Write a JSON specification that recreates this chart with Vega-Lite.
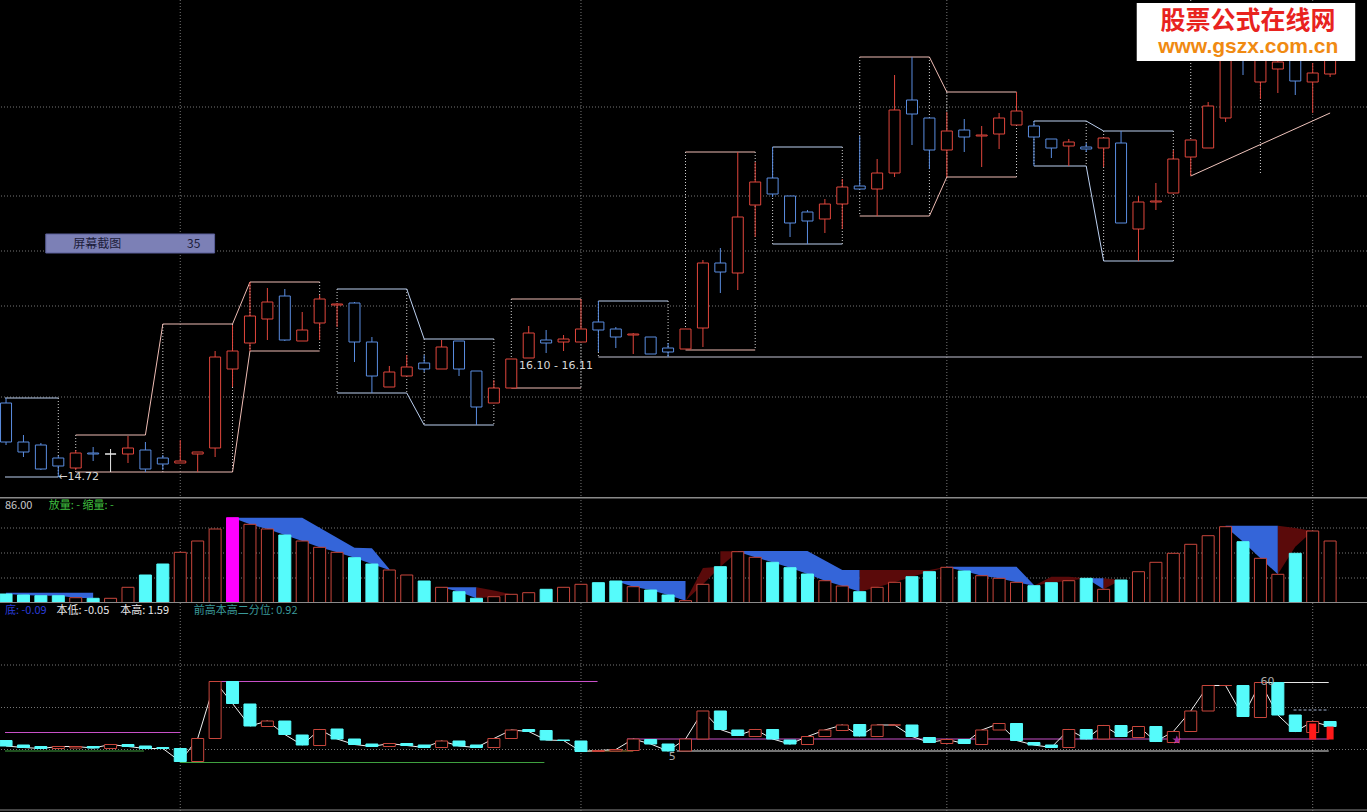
{
"$schema": "https://vega.github.io/schema/vega-lite/v6.json",
"background": "#000000",
"padding": 0,
"spacing": 0,
"bounds": "flush",
"config": {"view": {"stroke": null}, "text": {"font": "Noto Sans CJK SC"}},
"resolve": {"scale": {"x": "independent", "y": "independent", "color": "independent", "fill": "independent", "stroke": "independent"}},
"datasets": {
"candles": [
{"i":0,"o":15.46,"h":15.51,"l":15.04,"c":15.07,"d":"down"},
{"i":1,"o":15.07,"h":15.14,"l":14.92,"c":14.97,"d":"down"},
{"i":2,"o":15.04,"h":15.06,"l":14.79,"c":14.80,"d":"down"},
{"i":3,"o":14.91,"h":14.93,"l":14.72,"c":14.83,"d":"down"},
{"i":4,"o":14.81,"h":14.99,"l":14.79,"c":14.96,"d":"up"},
{"i":5,"o":14.96,"h":15.02,"l":14.88,"c":14.95,"d":"down"},
{"i":6,"o":14.95,"h":15.00,"l":14.77,"c":14.95,"d":"flat"},
{"i":7,"o":14.95,"h":15.13,"l":14.86,"c":15.01,"d":"up"},
{"i":8,"o":14.99,"h":15.07,"l":14.77,"c":14.80,"d":"down"},
{"i":9,"o":14.91,"h":14.94,"l":14.79,"c":14.85,"d":"down"},
{"i":10,"o":14.86,"h":15.09,"l":14.86,"c":14.88,"d":"up"},
{"i":11,"o":14.95,"h":14.97,"l":14.77,"c":14.97,"d":"up"},
{"i":12,"o":15.01,"h":15.98,"l":14.92,"c":15.92,"d":"up"},
{"i":13,"o":15.80,"h":16.24,"l":15.62,"c":15.98,"d":"up"},
{"i":14,"o":16.06,"h":16.67,"l":15.98,"c":16.33,"d":"up"},
{"i":15,"o":16.30,"h":16.61,"l":16.09,"c":16.47,"d":"up"},
{"i":16,"o":16.53,"h":16.60,"l":16.08,"c":16.09,"d":"down"},
{"i":17,"o":16.08,"h":16.37,"l":16.08,"c":16.19,"d":"up"},
{"i":18,"o":16.26,"h":16.54,"l":16.09,"c":16.50,"d":"up"},
{"i":19,"o":16.44,"h":16.46,"l":16.22,"c":16.45,"d":"up"},
{"i":20,"o":16.46,"h":16.47,"l":15.87,"c":16.07,"d":"down"},
{"i":21,"o":16.07,"h":16.12,"l":15.56,"c":15.73,"d":"down"},
{"i":22,"o":15.62,"h":15.83,"l":15.62,"c":15.77,"d":"up"},
{"i":23,"o":15.73,"h":15.94,"l":15.73,"c":15.82,"d":"up"},
{"i":24,"o":15.86,"h":15.94,"l":15.77,"c":15.80,"d":"down"},
{"i":25,"o":15.80,"h":16.09,"l":15.80,"c":16.02,"d":"up"},
{"i":26,"o":16.08,"h":16.08,"l":15.73,"c":15.80,"d":"down"},
{"i":27,"o":15.78,"h":15.78,"l":15.24,"c":15.42,"d":"down"},
{"i":28,"o":15.46,"h":15.69,"l":15.46,"c":15.61,"d":"up"},
{"i":29,"o":15.61,"h":15.90,"l":15.61,"c":15.90,"d":"up"},
{"i":30,"o":15.91,"h":16.23,"l":15.91,"c":16.16,"d":"up"},
{"i":31,"o":16.09,"h":16.19,"l":15.96,"c":16.06,"d":"down"},
{"i":32,"o":16.07,"h":16.14,"l":15.98,"c":16.10,"d":"up"},
{"i":33,"o":16.07,"h":16.50,"l":16.07,"c":16.20,"d":"up"},
{"i":34,"o":16.27,"h":16.48,"l":15.97,"c":16.19,"d":"down"},
{"i":35,"o":16.20,"h":16.22,"l":16.01,"c":16.12,"d":"down"},
{"i":36,"o":16.14,"h":16.16,"l":15.95,"c":16.15,"d":"up"},
{"i":37,"o":16.12,"h":16.12,"l":15.95,"c":15.95,"d":"down"},
{"i":38,"o":16.01,"h":16.06,"l":15.92,"c":15.97,"d":"down"},
{"i":39,"o":16.00,"h":16.20,"l":16.00,"c":16.20,"d":"up"},
{"i":40,"o":16.21,"h":16.89,"l":16.02,"c":16.86,"d":"up"},
{"i":41,"o":16.86,"h":17.01,"l":16.56,"c":16.77,"d":"down"},
{"i":42,"o":16.76,"h":17.97,"l":16.59,"c":17.32,"d":"up"},
{"i":43,"o":17.44,"h":17.87,"l":17.12,"c":17.67,"d":"up"},
{"i":44,"o":17.71,"h":18.02,"l":17.52,"c":17.55,"d":"down"},
{"i":45,"o":17.53,"h":17.53,"l":17.12,"c":17.26,"d":"down"},
{"i":46,"o":17.37,"h":17.39,"l":17.05,"c":17.28,"d":"down"},
{"i":47,"o":17.30,"h":17.50,"l":17.16,"c":17.45,"d":"up"},
{"i":48,"o":17.45,"h":17.70,"l":17.20,"c":17.62,"d":"up"},
{"i":49,"o":17.63,"h":18.13,"l":17.60,"c":17.60,"d":"down"},
{"i":50,"o":17.60,"h":17.90,"l":17.33,"c":17.76,"d":"up"},
{"i":51,"o":17.76,"h":18.74,"l":17.72,"c":18.39,"d":"up"},
{"i":52,"o":18.49,"h":18.92,"l":18.04,"c":18.35,"d":"down"},
{"i":53,"o":18.31,"h":18.31,"l":17.80,"c":17.99,"d":"down"},
{"i":54,"o":17.99,"h":18.37,"l":17.72,"c":18.18,"d":"up"},
{"i":55,"o":18.19,"h":18.30,"l":17.97,"c":18.12,"d":"down"},
{"i":56,"o":18.13,"h":18.23,"l":17.82,"c":18.14,"d":"up"},
{"i":57,"o":18.15,"h":18.36,"l":18.00,"c":18.31,"d":"up"},
{"i":58,"o":18.24,"h":18.57,"l":18.24,"c":18.38,"d":"up"},
{"i":59,"o":18.23,"h":18.28,"l":17.83,"c":18.12,"d":"down"},
{"i":60,"o":18.10,"h":18.10,"l":17.91,"c":18.01,"d":"down"},
{"i":61,"o":18.03,"h":18.10,"l":17.83,"c":18.07,"d":"up"},
{"i":62,"o":18.02,"h":18.06,"l":17.97,"c":18.00,"d":"down"},
{"i":63,"o":18.01,"h":18.11,"l":17.82,"c":18.11,"d":"up"},
{"i":64,"o":18.06,"h":18.18,"l":17.26,"c":17.26,"d":"down"},
{"i":65,"o":17.20,"h":17.53,"l":16.88,"c":17.47,"d":"up"},
{"i":66,"o":17.47,"h":17.66,"l":17.39,"c":17.48,"d":"up"},
{"i":67,"o":17.56,"h":17.99,"l":17.56,"c":17.90,"d":"up"},
{"i":68,"o":17.92,"h":18.09,"l":17.73,"c":18.09,"d":"up"},
{"i":69,"o":18.01,"h":18.47,"l":18.01,"c":18.43,"d":"up"},
{"i":70,"o":18.31,"h":19.04,"l":18.27,"c":18.94,"d":"up"},
{"i":71,"o":19.09,"h":19.19,"l":18.74,"c":18.89,"d":"down"},
{"i":72,"o":18.67,"h":19.19,"l":18.50,"c":19.04,"d":"up"},
{"i":73,"o":18.80,"h":18.99,"l":18.56,"c":18.87,"d":"up"},
{"i":74,"o":18.91,"h":19.04,"l":18.54,"c":18.68,"d":"down"},
{"i":75,"o":18.67,"h":18.86,"l":18.36,"c":18.76,"d":"up"},
{"i":76,"o":18.75,"h":19.04,"l":18.72,"c":18.89,"d":"up"}
],
"psides": [
{"i":3,"t":15.51,"b":14.72},{"i":4,"t":15.14,"b":14.77},{"i":9,"t":16.25,"b":14.77},{"i":13,"t":16.25,"b":14.77},
{"i":14,"t":16.67,"b":15.98},{"i":18,"t":16.67,"b":15.98},{"i":19,"t":16.60,"b":15.56},{"i":23,"t":16.60,"b":15.56},
{"i":24,"t":16.10,"b":15.24},{"i":28,"t":16.10,"b":15.24},{"i":29,"t":16.50,"b":15.61},{"i":33,"t":16.50,"b":15.61},
{"i":34,"t":16.48,"b":15.92},{"i":38,"t":16.48,"b":15.92},{"i":39,"t":17.97,"b":15.99},{"i":43,"t":17.97,"b":15.99},
{"i":44,"t":18.02,"b":17.05},{"i":48,"t":18.02,"b":17.05},{"i":49,"t":18.92,"b":17.33},{"i":53,"t":18.92,"b":17.33},
{"i":54,"t":18.57,"b":17.72},{"i":58,"t":18.57,"b":17.72},{"i":59,"t":18.28,"b":17.83},{"i":62,"t":18.28,"b":17.83},
{"i":63,"t":18.18,"b":16.88},{"i":67,"t":18.18,"b":16.88},{"i":68,"t":19.49,"b":17.73},{"i":72,"t":18.67,"b":17.75}
],
"pseg": [
{"xa":-0.06,"ya":15.51,"xb":3,"yb":15.51,"k":"down"},
{"xa":-0.06,"ya":14.72,"xb":3,"yb":14.72,"k":"down"},
{"xa":4,"ya":15.14,"xb":8,"yb":15.14,"k":"up"},
{"xa":8,"ya":15.14,"xb":9,"yb":16.25,"k":"up"},
{"xa":9,"ya":16.25,"xb":13,"yb":16.25,"k":"up"},
{"xa":4,"ya":14.77,"xb":13,"yb":14.77,"k":"up"},
{"xa":13,"ya":16.25,"xb":14,"yb":16.67,"k":"up"},
{"xa":13,"ya":14.77,"xb":14,"yb":15.98,"k":"up"},
{"xa":14,"ya":16.67,"xb":18,"yb":16.67,"k":"up"},
{"xa":14,"ya":15.98,"xb":18,"yb":15.98,"k":"up"},
{"xa":19,"ya":16.60,"xb":23,"yb":16.60,"k":"down"},
{"xa":19,"ya":15.56,"xb":23,"yb":15.56,"k":"down"},
{"xa":23,"ya":16.60,"xb":24,"yb":16.10,"k":"down"},
{"xa":23,"ya":15.56,"xb":24,"yb":15.24,"k":"down"},
{"xa":24,"ya":16.10,"xb":28,"yb":16.10,"k":"down"},
{"xa":24,"ya":15.24,"xb":28,"yb":15.24,"k":"down"},
{"xa":29,"ya":16.50,"xb":33,"yb":16.50,"k":"up"},
{"xa":29,"ya":15.61,"xb":33,"yb":15.61,"k":"up"},
{"xa":34,"ya":16.48,"xb":38,"yb":16.48,"k":"down"},
{"xa":34,"ya":15.92,"xb":77.83,"yb":15.92,"k":"base"},
{"xa":39,"ya":17.97,"xb":43,"yb":17.97,"k":"up"},
{"xa":39,"ya":15.99,"xb":43,"yb":15.99,"k":"up"},
{"xa":44,"ya":18.02,"xb":48,"yb":18.02,"k":"down"},
{"xa":44,"ya":17.05,"xb":48,"yb":17.05,"k":"down"},
{"xa":49,"ya":18.92,"xb":53,"yb":18.92,"k":"up"},
{"xa":49,"ya":17.33,"xb":53,"yb":17.33,"k":"up"},
{"xa":53,"ya":18.92,"xb":54,"yb":18.57,"k":"up"},
{"xa":53,"ya":17.33,"xb":54,"yb":17.72,"k":"up"},
{"xa":54,"ya":18.57,"xb":58,"yb":18.57,"k":"up"},
{"xa":54,"ya":17.72,"xb":58,"yb":17.72,"k":"up"},
{"xa":59,"ya":18.28,"xb":62,"yb":18.28,"k":"down"},
{"xa":59,"ya":17.83,"xb":62,"yb":17.83,"k":"down"},
{"xa":62,"ya":18.28,"xb":63,"yb":18.18,"k":"down"},
{"xa":62,"ya":17.83,"xb":63,"yb":16.88,"k":"down"},
{"xa":63,"ya":18.18,"xb":67,"yb":18.18,"k":"down"},
{"xa":63,"ya":16.88,"xb":67,"yb":16.88,"k":"down"},
{"xa":68,"ya":17.73,"xb":76,"yb":18.36,"k":"trend"}
],
"vol": [
{"i":0,"v":9.0,"d":"down"},{"i":1,"v":8.0,"d":"down"},{"i":2,"v":7.3,"d":"down"},{"i":3,"v":7.3,"d":"down"},
{"i":4,"v":5.3,"d":"up"},{"i":5,"v":4.7,"d":"down"},{"i":6,"v":4.7,"d":"up"},{"i":7,"v":15.7,"d":"up"},
{"i":8,"v":28,"d":"down"},{"i":9,"v":39,"d":"down"},{"i":10,"v":50.7,"d":"up"},{"i":11,"v":62,"d":"up"},
{"i":12,"v":74,"d":"up"},{"i":13,"v":85.3,"d":"peak"},{"i":14,"v":78.7,"d":"up"},{"i":15,"v":74,"d":"up"},
{"i":16,"v":68,"d":"down"},{"i":17,"v":62,"d":"up"},{"i":18,"v":55.7,"d":"up"},{"i":19,"v":50.7,"d":"up"},
{"i":20,"v":45.3,"d":"down"},{"i":21,"v":39,"d":"down"},{"i":22,"v":33,"d":"up"},{"i":23,"v":28,"d":"up"},
{"i":24,"v":22,"d":"down"},{"i":25,"v":15.7,"d":"up"},{"i":26,"v":11.3,"d":"down"},{"i":27,"v":4.7,"d":"down"},
{"i":28,"v":6.3,"d":"up"},{"i":29,"v":8.7,"d":"up"},{"i":30,"v":10.3,"d":"up"},{"i":31,"v":13.7,"d":"down"},
{"i":32,"v":15.7,"d":"up"},{"i":33,"v":18.7,"d":"up"},{"i":34,"v":20.3,"d":"down"},{"i":35,"v":22,"d":"down"},
{"i":36,"v":16.3,"d":"up"},{"i":37,"v":13,"d":"down"},{"i":38,"v":8,"d":"down"},{"i":39,"v":2.3,"d":"up"},
{"i":40,"v":18.7,"d":"up"},{"i":41,"v":36.3,"d":"down"},{"i":42,"v":51.3,"d":"up"},{"i":43,"v":45.7,"d":"up"},
{"i":44,"v":40.7,"d":"down"},{"i":45,"v":35.3,"d":"down"},{"i":46,"v":29,"d":"down"},{"i":47,"v":22.3,"d":"up"},
{"i":48,"v":17,"d":"up"},{"i":49,"v":11.3,"d":"down"},{"i":50,"v":15.7,"d":"up"},{"i":51,"v":20.7,"d":"up"},
{"i":52,"v":26.3,"d":"down"},{"i":53,"v":31.3,"d":"down"},{"i":54,"v":35.7,"d":"up"},{"i":55,"v":32,"d":"down"},
{"i":56,"v":27.3,"d":"up"},{"i":57,"v":24.7,"d":"up"},{"i":58,"v":20.7,"d":"up"},{"i":59,"v":17.3,"d":"down"},
{"i":60,"v":20.3,"d":"down"},{"i":61,"v":22.3,"d":"up"},{"i":62,"v":24.7,"d":"down"},{"i":63,"v":13.7,"d":"up"},
{"i":64,"v":23,"d":"down"},{"i":65,"v":31.3,"d":"up"},{"i":66,"v":40.7,"d":"up"},{"i":67,"v":49.7,"d":"up"},
{"i":68,"v":58.7,"d":"up"},{"i":69,"v":67.3,"d":"up"},{"i":70,"v":76.3,"d":"up"},{"i":71,"v":61.3,"d":"down"},
{"i":72,"v":44.7,"d":"up"},{"i":73,"v":28.7,"d":"up"},{"i":74,"v":49.7,"d":"down"},{"i":75,"v":72,"d":"up"},
{"i":76,"v":62,"d":"up"}
],
"varea": [
{"i":0,"hi":10.3,"lo":9,"s":"a1","k":"blue"},{"i":1,"hi":10.3,"lo":8,"s":"a1","k":"blue"},{"i":2,"hi":10.3,"lo":7.3,"s":"a1","k":"blue"},{"i":3,"hi":10.3,"lo":7.3,"s":"a1","k":"blue"},{"i":4,"hi":10.3,"lo":5.3,"s":"a1","k":"blue"},{"i":5,"hi":10.3,"lo":4.7,"s":"a1","k":"blue"},
{"i":13,"hi":85.3,"lo":85.3,"s":"a2","k":"blue"},{"i":14,"hi":85.3,"lo":78.7,"s":"a2","k":"blue"},{"i":15,"hi":85.3,"lo":74,"s":"a2","k":"blue"},{"i":16,"hi":85.3,"lo":68,"s":"a2","k":"blue"},{"i":17,"hi":85.3,"lo":62,"s":"a2","k":"blue"},{"i":18,"hi":75.3,"lo":55.7,"s":"a2","k":"blue"},{"i":19,"hi":65.3,"lo":50.7,"s":"a2","k":"blue"},{"i":20,"hi":55.3,"lo":45.3,"s":"a2","k":"blue"},{"i":21,"hi":54.7,"lo":39,"s":"a2","k":"blue"},{"i":22,"hi":34,"lo":33,"s":"a2","k":"blue"},
{"i":25,"hi":15.7,"lo":15.7,"s":"a3","k":"blue"},{"i":26,"hi":15.7,"lo":11.3,"s":"a3","k":"blue"},{"i":27,"hi":15.7,"lo":4.7,"s":"a3","k":"blue"},
{"i":27,"hi":15.7,"lo":4.7,"s":"a4","k":"dark"},{"i":28,"hi":12.5,"lo":6.3,"s":"a4","k":"dark"},{"i":29,"hi":8.7,"lo":8.7,"s":"a4","k":"dark"},
{"i":35,"hi":22,"lo":22,"s":"a5","k":"blue"},{"i":36,"hi":22,"lo":16.3,"s":"a5","k":"blue"},{"i":37,"hi":22,"lo":13,"s":"a5","k":"blue"},{"i":38,"hi":22,"lo":8,"s":"a5","k":"blue"},{"i":39,"hi":22,"lo":2.3,"s":"a5","k":"blue"},
{"i":39,"hi":2.3,"lo":2.3,"s":"a6","k":"dark"},{"i":40,"hi":35,"lo":18.7,"s":"a6","k":"dark"},{"i":41,"hi":36.3,"lo":36.3,"s":"a6","k":"dark"},
{"i":41,"hi":51.7,"lo":36.3,"s":"a7","k":"dark"},{"i":42,"hi":51.7,"lo":51.3,"s":"a7","k":"dark"},
{"i":42,"hi":52,"lo":51.3,"s":"a8","k":"blue"},{"i":43,"hi":52,"lo":45.7,"s":"a8","k":"blue"},{"i":44,"hi":52,"lo":40.7,"s":"a8","k":"blue"},{"i":45,"hi":52,"lo":35.3,"s":"a8","k":"blue"},{"i":46,"hi":52,"lo":29,"s":"a8","k":"blue"},{"i":47,"hi":42.5,"lo":22.3,"s":"a8","k":"blue"},{"i":48,"hi":33,"lo":17,"s":"a8","k":"blue"},{"i":49,"hi":33,"lo":11.3,"s":"a8","k":"blue"},
{"i":49,"hi":33,"lo":11.3,"s":"a9","k":"dark"},{"i":50,"hi":33,"lo":15.7,"s":"a9","k":"dark"},{"i":51,"hi":33,"lo":20.7,"s":"a9","k":"dark"},{"i":52,"hi":33,"lo":26.3,"s":"a9","k":"dark"},{"i":53,"hi":33,"lo":31.3,"s":"a9","k":"dark"},{"i":54,"hi":36.3,"lo":35.7,"s":"a9","k":"dark"},
{"i":54,"hi":36.3,"lo":35.7,"s":"a10","k":"blue"},{"i":55,"hi":36.3,"lo":32,"s":"a10","k":"blue"},{"i":56,"hi":36.3,"lo":27.3,"s":"a10","k":"blue"},{"i":57,"hi":36.3,"lo":24.7,"s":"a10","k":"blue"},{"i":58,"hi":36.3,"lo":20.7,"s":"a10","k":"blue"},{"i":59,"hi":18,"lo":17.3,"s":"a10","k":"blue"},
{"i":59,"hi":17.3,"lo":17.3,"s":"a11","k":"dark"},{"i":60,"hi":26.3,"lo":20.3,"s":"a11","k":"dark"},{"i":61,"hi":26.3,"lo":22.3,"s":"a11","k":"dark"},{"i":62,"hi":24.7,"lo":24.7,"s":"a11","k":"dark"},
{"i":62,"hi":24.7,"lo":24.7,"s":"a12","k":"blue"},{"i":63,"hi":24.7,"lo":13.7,"s":"a12","k":"blue"},
{"i":63,"hi":24.7,"lo":13.7,"s":"a13","k":"dark"},{"i":64,"hi":23,"lo":23,"s":"a13","k":"dark"},
{"i":70,"hi":77.3,"lo":76.3,"s":"a14","k":"blue"},{"i":71,"hi":77.3,"lo":61.3,"s":"a14","k":"blue"},{"i":72,"hi":77.3,"lo":44.7,"s":"a14","k":"blue"},{"i":73,"hi":77.3,"lo":28.7,"s":"a14","k":"blue"},
{"i":73,"hi":77.3,"lo":28.7,"s":"a15","k":"dark"},{"i":74,"hi":75,"lo":56.3,"s":"a15","k":"dark"},{"i":75,"hi":72,"lo":72,"s":"a15","k":"dark"}
],
"ind": [
{"i":0,"o":0.39,"c":0.28,"d":"down"},{"i":1,"o":0.30,"c":0.25,"d":"down"},{"i":2,"o":0.27,"c":0.23,"d":"down"},{"i":3,"o":0.23,"c":0.27,"d":"up"},
{"i":4,"o":0.24,"c":0.27,"d":"up"},{"i":5,"o":0.27,"c":0.24,"d":"down"},{"i":6,"o":0.23,"c":0.31,"d":"up"},{"i":7,"o":0.31,"c":0.27,"d":"down"},
{"i":8,"o":0.28,"c":0.23,"d":"down"},{"i":9,"o":0.25,"c":0.23,"d":"down"},{"i":10,"o":0.23,"c":-0.03,"d":"down"},{"i":11,"o":-0.03,"c":0.43,"d":"up"},
{"i":12,"o":0.43,"c":1.57,"d":"up"},{"i":13,"o":1.57,"c":1.13,"d":"down"},{"i":14,"o":1.12,"c":0.68,"d":"down"},{"i":15,"o":0.67,"c":0.78,"d":"up"},
{"i":16,"o":0.78,"c":0.51,"d":"down"},{"i":17,"o":0.50,"c":0.30,"d":"down"},{"i":18,"o":0.29,"c":0.61,"d":"up"},{"i":19,"o":0.62,"c":0.42,"d":"down"},
{"i":20,"o":0.42,"c":0.31,"d":"down"},{"i":21,"o":0.32,"c":0.27,"d":"down"},{"i":22,"o":0.27,"c":0.33,"d":"up"},{"i":23,"o":0.33,"c":0.29,"d":"down"},
{"i":24,"o":0.30,"c":0.25,"d":"down"},{"i":25,"o":0.25,"c":0.38,"d":"up"},{"i":26,"o":0.38,"c":0.28,"d":"down"},{"i":27,"o":0.30,"c":0.25,"d":"down"},
{"i":28,"o":0.25,"c":0.43,"d":"up"},{"i":29,"o":0.43,"c":0.60,"d":"up"},{"i":30,"o":0.61,"c":0.57,"d":"down"},{"i":31,"o":0.59,"c":0.40,"d":"down"},
{"i":32,"o":0.40,"c":0.39,"d":"down"},{"i":33,"o":0.38,"c":0.17,"d":"down"},{"i":34,"o":0.17,"c":0.19,"d":"up"},{"i":35,"o":0.18,"c":0.21,"d":"up"},
{"i":36,"o":0.19,"c":0.42,"d":"up"},{"i":37,"o":0.41,"c":0.32,"d":"down"},{"i":38,"o":0.32,"c":0.18,"d":"down"},{"i":39,"o":0.18,"c":0.42,"d":"up"},
{"i":40,"o":0.42,"c":0.98,"d":"up"},{"i":41,"o":0.98,"c":0.61,"d":"down"},{"i":42,"o":0.60,"c":0.49,"d":"down"},{"i":43,"o":0.47,"c":0.61,"d":"up"},
{"i":44,"o":0.61,"c":0.42,"d":"down"},{"i":45,"o":0.40,"c":0.32,"d":"down"},{"i":46,"o":0.31,"c":0.47,"d":"up"},{"i":47,"o":0.47,"c":0.60,"d":"up"},
{"i":48,"o":0.59,"c":0.70,"d":"up"},{"i":49,"o":0.71,"c":0.48,"d":"down"},{"i":50,"o":0.47,"c":0.70,"d":"up"},{"i":51,"o":0.70,"c":0.70,"d":"up"},
{"i":52,"o":0.70,"c":0.47,"d":"down"},{"i":53,"o":0.45,"c":0.35,"d":"down"},{"i":54,"o":0.33,"c":0.41,"d":"up"},{"i":55,"o":0.41,"c":0.33,"d":"down"},
{"i":56,"o":0.31,"c":0.60,"d":"up"},{"i":57,"o":0.60,"c":0.73,"d":"up"},{"i":58,"o":0.73,"c":0.39,"d":"down"},{"i":59,"o":0.35,"c":0.30,"d":"down"},
{"i":60,"o":0.30,"c":0.25,"d":"down"},{"i":61,"o":0.25,"c":0.61,"d":"up"},{"i":62,"o":0.61,"c":0.42,"d":"down"},{"i":63,"o":0.42,"c":0.69,"d":"up"},
{"i":64,"o":0.69,"c":0.47,"d":"down"},{"i":65,"o":0.45,"c":0.67,"d":"up"},{"i":66,"o":0.67,"c":0.37,"d":"down"},{"i":67,"o":0.35,"c":0.57,"d":"up"},
{"i":68,"o":0.57,"c":0.98,"d":"up"},{"i":69,"o":0.98,"c":1.49,"d":"up"},{"i":70,"o":1.49,"c":1.49,"d":"up"},{"i":71,"o":1.49,"c":0.87,"d":"down"},
{"i":72,"o":0.85,"c":1.55,"d":"up"},{"i":73,"o":1.55,"c":0.90,"d":"down"},{"i":74,"o":0.90,"c":0.57,"d":"down"},{"i":75,"o":0.55,"c":0.77,"d":"up"},
{"i":76,"o":0.77,"c":0.67,"d":"down"}
],
"iseg": [
{"xa":-0.06,"xb":10,"y":0.55,"k":"mag"},
{"xa":11.65,"xb":33.95,"y":1.57,"k":"mag"},
{"xa":-0.06,"xb":7.92,"y":0.18,"k":"green"},
{"xa":10,"xb":30.9,"y":-0.05,"k":"green"},
{"xa":35.65,"xb":75.92,"y":0.42,"k":"mag"},
{"xa":38.5,"xb":75.92,"y":0.18,"k":"white"},
{"xa":33.4,"xb":36,"y":0.18,"k":"orange"},
{"xa":72.1,"xb":75.92,"y":1.55,"k":"white"}
]
},
"vconcat": [
{
"width": 1367, "height": 497,
"resolve": {"scale": {"color": "independent", "fill": "independent", "stroke": "independent"}},
"layer": [
{"data": {"values": [{"p":18.42},{"p":17.53},{"p":16.98},{"p":16.43},{"p":15.52}]},
 "mark": {"type":"rule","color":"#767676","strokeDash":[1,2],"clip":true},
 "encoding": {"y": {"field":"p","type":"quantitative","scale":{"domain":[14.52,19.49],"nice":false,"zero":false},"axis":null}}},
{"data": {"values": [{"i":10},{"i":33},{"i":54},{"i":75}]},
 "mark": {"type":"rule","color":"#767676","strokeDash":[1,2],"clip":true},
 "encoding": {"x": {"field":"i","type":"quantitative","scale":{"domain":[-0.06,77.83],"nice":false,"zero":false},"axis":null}}},
{"data": {"name":"psides"},
 "mark": {"type":"rule","color":"#cfcfcf","strokeDash":[1,2],"clip":true},
 "encoding": {"x": {"field":"i","type":"quantitative","scale":{"domain":[-0.06,77.83],"nice":false,"zero":false},"axis":null},
  "y": {"field":"t","type":"quantitative","scale":{"domain":[14.52,19.49],"nice":false,"zero":false},"axis":null},
  "y2": {"field":"b"}}},
{"data": {"name":"pseg"},
 "mark": {"type":"rule","strokeWidth":1,"clip":true},
 "encoding": {"x": {"field":"xa","type":"quantitative","scale":{"domain":[-0.06,77.83],"nice":false,"zero":false},"axis":null},
  "x2": {"field":"xb"},
  "y": {"field":"ya","type":"quantitative","scale":{"domain":[14.52,19.49],"nice":false,"zero":false},"axis":null},
  "y2": {"field":"yb"},
  "color": {"field":"k","type":"nominal","scale":{"domain":["up","down","base","trend"],"range":["#eebcb4","#bcd0f0","#c4c4d4","#f0c4bc"]},"legend":null}}},
{"data": {"name":"candles"},
 "mark": {"type":"rule","strokeWidth":1,"clip":true},
 "encoding": {"x": {"field":"i","type":"quantitative","scale":{"domain":[-0.06,77.83],"nice":false,"zero":false},"axis":null},
  "y": {"field":"l","type":"quantitative","scale":{"domain":[14.52,19.49],"nice":false,"zero":false},"axis":null},
  "y2": {"field":"h"},
  "color": {"field":"d","type":"nominal","scale":{"domain":["up","down","flat"],"range":["#e0463c","#5a8de0","#e8e8e8"]},"legend":null}}},
{"data": {"name":"candles"},
 "mark": {"type":"bar","size":11,"fill":"#000000","strokeWidth":1,"clip":true},
 "encoding": {"x": {"field":"i","type":"quantitative","scale":{"domain":[-0.06,77.83],"nice":false,"zero":false},"axis":null},
  "y": {"field":"o","type":"quantitative","scale":{"domain":[14.52,19.49],"nice":false,"zero":false},"axis":null},
  "y2": {"field":"c"},
  "stroke": {"field":"d","type":"nominal","scale":{"domain":["up","down","flat"],"range":["#e0463c","#5a8de0","#e8e8e8"]},"legend":null}}},
{"data": {"values": [{"i":3,"p":14.72,"t":"←14.72"},{"i":29.45,"p":15.83,"t":"16.10 - 16.11"}]},
 "mark": {"type":"text","align":"left","baseline":"middle","fontSize":11,"font":"DejaVu Sans","color":"#d8d8d8","clip":true},
 "encoding": {"x": {"field":"i","type":"quantitative","scale":{"domain":[-0.06,77.83],"nice":false,"zero":false},"axis":null},
  "y": {"field":"p","type":"quantitative","scale":{"domain":[14.52,19.49],"nice":false,"zero":false},"axis":null},
  "text": {"field":"t"}}},
{"data": {"values": [{"xa":2.28,"xb":11.97,"ya":17.15,"yb":16.96}]},
 "mark": {"type":"rect","fill":"#7c80b6","stroke":"#5a5e98","strokeWidth":1,"clip":true},
 "encoding": {"x": {"field":"xa","type":"quantitative","scale":{"domain":[-0.06,77.83],"nice":false,"zero":false},"axis":null},
  "x2": {"field":"xb"},
  "y": {"field":"ya","type":"quantitative","scale":{"domain":[14.52,19.49],"nice":false,"zero":false},"axis":null},
  "y2": {"field":"yb"}}},
{"data": {"values": [{"i":5.24,"p":17.055,"t":"屏幕截图"},{"i":10.77,"p":17.055,"t":"35"}]},
 "mark": {"type":"text","align":"center","baseline":"middle","fontSize":12,"color":"#1c1c3a","clip":true},
 "encoding": {"x": {"field":"i","type":"quantitative","scale":{"domain":[-0.06,77.83],"nice":false,"zero":false},"axis":null},
  "y": {"field":"p","type":"quantitative","scale":{"domain":[14.52,19.49],"nice":false,"zero":false},"axis":null},
  "text": {"field":"t"}}},
{"data": {"values": [{"xa":64.9,"xb":77.44,"ya":19.46,"yb":18.88}]},
 "mark": {"type":"rect","fill":"#ffffff","clip":true},
 "encoding": {"x": {"field":"xa","type":"quantitative","scale":{"domain":[-0.06,77.83],"nice":false,"zero":false},"axis":null},
  "x2": {"field":"xb"},
  "y": {"field":"ya","type":"quantitative","scale":{"domain":[14.52,19.49],"nice":false,"zero":false},"axis":null},
  "y2": {"field":"yb"}}},
{"data": {"values": [{"i":71.28,"p":19.285,"t":"股票公式在线网"}]},
 "mark": {"type":"text","align":"center","baseline":"middle","fontSize":25,"fontWeight":"bold","color":"#e8231f","clip":true},
 "encoding": {"x": {"field":"i","type":"quantitative","scale":{"domain":[-0.06,77.83],"nice":false,"zero":false},"axis":null},
  "y": {"field":"p","type":"quantitative","scale":{"domain":[14.52,19.49],"nice":false,"zero":false},"axis":null},
  "text": {"field":"t"}}},
{"data": {"values": [{"i":71.3,"p":19.025,"t":"www.gszx.com.cn"}]},
 "mark": {"type":"text","align":"center","baseline":"middle","fontSize":21,"fontWeight":"bold","font":"Liberation Sans","color":"#f08a12","clip":true},
 "encoding": {"x": {"field":"i","type":"quantitative","scale":{"domain":[-0.06,77.83],"nice":false,"zero":false},"axis":null},
  "y": {"field":"p","type":"quantitative","scale":{"domain":[14.52,19.49],"nice":false,"zero":false},"axis":null},
  "text": {"field":"t"}}}
]
},
{
"width": 1367, "height": 106,
"resolve": {"scale": {"color": "independent", "fill": "independent", "stroke": "independent"}},
"layer": [
{"data": {"values": [{"v":25},{"v":50},{"v":75}]},
 "mark": {"type":"rule","color":"#767676","strokeDash":[1,2],"clip":true},
 "encoding": {"y": {"field":"v","type":"quantitative","scale":{"domain":[0,106],"nice":false,"zero":false},"axis":null}}},
{"data": {"values": [{"i":10},{"i":33},{"i":54},{"i":75}]},
 "mark": {"type":"rule","color":"#767676","strokeDash":[1,2],"clip":true},
 "encoding": {"x": {"field":"i","type":"quantitative","scale":{"domain":[-0.06,77.83],"nice":false,"zero":false},"axis":null}}},
{"data": {"name":"varea"},
 "mark": {"type":"area","interpolate":"linear","clip":true},
 "encoding": {"x": {"field":"i","type":"quantitative","scale":{"domain":[-0.06,77.83],"nice":false,"zero":false},"axis":null},
  "y": {"field":"hi","type":"quantitative","stack":null,"scale":{"domain":[0,106],"nice":false,"zero":false},"axis":null},
  "y2": {"field":"lo"},
  "detail": {"field":"s"},
  "color": {"field":"k","type":"nominal","scale":{"domain":["blue","dark"],"range":["#3465d9","#5a0a0a"]},"legend":null}}},
{"data": {"name":"vol"},
 "mark": {"type":"bar","size":12,"strokeWidth":1,"clip":true},
 "encoding": {"x": {"field":"i","type":"quantitative","scale":{"domain":[-0.06,77.83],"nice":false,"zero":false},"axis":null},
  "y": {"field":"v","type":"quantitative","stack":null,"scale":{"domain":[0,106],"nice":false,"zero":false},"axis":null},
  "y2": {"datum":0},
  "fill": {"field":"d","type":"nominal","scale":{"domain":["up","down","peak"],"range":["#000000","#55fbfb","#ff00ff"]},"legend":null},
  "stroke": {"field":"d","type":"nominal","scale":{"domain":["up","down","peak"],"range":["#c8463c","#55fbfb","#ff00ff"]},"legend":null}}},
{"data": {"values": [{"v":105.3},{"v":0.3}]},
 "mark": {"type":"rule","color":"#8a8a8a","strokeWidth":1.5,"clip":true},
 "encoding": {"y": {"field":"v","type":"quantitative","scale":{"domain":[0,106],"nice":false,"zero":false},"axis":null}}},
{"data": {"values": [{"i":-0.06,"v":97,"t":"86.00","k":"a"},{"i":2.45,"v":97,"t":"放量: - 缩量: -","k":"b"}]},
 "mark": {"type":"text","align":"left","baseline":"middle","fontSize":11,"clip":true},
 "encoding": {"x": {"field":"i","type":"quantitative","scale":{"domain":[-0.06,77.83],"nice":false,"zero":false},"axis":null},
  "y": {"field":"v","type":"quantitative","scale":{"domain":[0,106],"nice":false,"zero":false},"axis":null},
  "text": {"field":"t"},
  "color": {"field":"k","type":"nominal","scale":{"domain":["a","b"],"range":["#c8c8c8","#3fbf3f"]},"legend":null}}}
]
},
{
"width": 1367, "height": 209,
"resolve": {"scale": {"color": "independent", "fill": "independent", "stroke": "independent"}},
"layer": [
{"data": {"values": [{"v":1.90},{"v":1.05},{"v":0.21}]},
 "mark": {"type":"rule","color":"#767676","strokeDash":[1,2],"clip":true},
 "encoding": {"y": {"field":"v","type":"quantitative","scale":{"domain":[-1.04,3.14],"nice":false,"zero":false},"axis":null}}},
{"data": {"values": [{"i":10},{"i":33},{"i":54},{"i":75}]},
 "mark": {"type":"rule","color":"#767676","strokeDash":[1,2],"clip":true},
 "encoding": {"x": {"field":"i","type":"quantitative","scale":{"domain":[-0.06,77.83],"nice":false,"zero":false},"axis":null}}},
{"data": {"name":"iseg"},
 "mark": {"type":"rule","strokeWidth":1,"clip":true},
 "encoding": {"x": {"field":"xa","type":"quantitative","scale":{"domain":[-0.06,77.83],"nice":false,"zero":false},"axis":null},
  "x2": {"field":"xb"},
  "y": {"field":"y","type":"quantitative","scale":{"domain":[-1.04,3.14],"nice":false,"zero":false},"axis":null},
  "color": {"field":"k","type":"nominal","scale":{"domain":["mag","green","white","orange"],"range":["#c850c8","#3fa03f","#e6e6e6","#b09040"]},"legend":null}}},
{"data": {"values": [{"xa":73.9,"xb":75.92,"y":1.0}]},
 "mark": {"type":"rule","color":"#9fb0d0","strokeDash":[3,2],"clip":true},
 "encoding": {"x": {"field":"xa","type":"quantitative","scale":{"domain":[-0.06,77.83],"nice":false,"zero":false},"axis":null},
  "x2": {"field":"xb"},
  "y": {"field":"y","type":"quantitative","scale":{"domain":[-1.04,3.14],"nice":false,"zero":false},"axis":null}}},
{"data": {"name":"ind"},
 "mark": {"type":"line","color":"#f0f0f0","strokeWidth":1,"clip":true},
 "encoding": {"x": {"field":"i","type":"quantitative","scale":{"domain":[-0.06,77.83],"nice":false,"zero":false},"axis":null},
  "y": {"field":"c","type":"quantitative","scale":{"domain":[-1.04,3.14],"nice":false,"zero":false},"axis":null}}},
{"data": {"name":"ind"},
 "mark": {"type":"bar","size":12,"strokeWidth":1,"clip":true},
 "encoding": {"x": {"field":"i","type":"quantitative","scale":{"domain":[-0.06,77.83],"nice":false,"zero":false},"axis":null},
  "y": {"field":"o","type":"quantitative","scale":{"domain":[-1.04,3.14],"nice":false,"zero":false},"axis":null},
  "y2": {"field":"c"},
  "fill": {"field":"d","type":"nominal","scale":{"domain":["up","down"],"range":["#000000","#55fbfb"]},"legend":null},
  "stroke": {"field":"d","type":"nominal","scale":{"domain":["up","down"],"range":["#c8463c","#55fbfb"]},"legend":null}}},
{"data": {"values": [{"i":75,"a":0.73,"b":0.41},{"i":76,"a":0.67,"b":0.41}]},
 "mark": {"type":"bar","size":7,"fill":"#ff1a1a","clip":true},
 "encoding": {"x": {"field":"i","type":"quantitative","scale":{"domain":[-0.06,77.83],"nice":false,"zero":false},"axis":null},
  "y": {"field":"a","type":"quantitative","scale":{"domain":[-1.04,3.14],"nice":false,"zero":false},"axis":null},
  "y2": {"field":"b"}}},
{"data": {"values": [{"i":67.2,"v":0.40}]},
 "mark": {"type":"point","shape":"M0,-1L0.24,-0.33L0.95,-0.31L0.38,0.12L0.59,0.81L0,0.4L-0.59,0.81L-0.38,0.12L-0.95,-0.31L-0.24,-0.33Z","size":90,"filled":true,"color":"#e040e0","clip":true},
 "encoding": {"x": {"field":"i","type":"quantitative","scale":{"domain":[-0.06,77.83],"nice":false,"zero":false},"axis":null},
  "y": {"field":"v","type":"quantitative","scale":{"domain":[-1.04,3.14],"nice":false,"zero":false},"axis":null}}},
{"data": {"values": [{"i":38.24,"v":0.06,"t":"5"},{"i":72.4,"v":1.57,"t":"60"}]},
 "mark": {"type":"text","align":"center","baseline":"middle","fontSize":11,"font":"DejaVu Sans","color":"#a8a8a8","clip":true},
 "encoding": {"x": {"field":"i","type":"quantitative","scale":{"domain":[-0.06,77.83],"nice":false,"zero":false},"axis":null},
  "y": {"field":"v","type":"quantitative","scale":{"domain":[-1.04,3.14],"nice":false,"zero":false},"axis":null},
  "text": {"field":"t"}}},
{"data": {"values": [{"i":-0.06,"v":2.98,"t":"底: -0.09","k":"a"},{"i":2.9,"v":2.98,"t":"本低: -0.05","k":"b"},{"i":6.55,"v":2.98,"t":"本高: 1.59","k":"b"},{"i":10.77,"v":2.98,"t":"前高本高二分位: 0.92","k":"c"}]},
 "mark": {"type":"text","align":"left","baseline":"middle","fontSize":11,"clip":true},
 "encoding": {"x": {"field":"i","type":"quantitative","scale":{"domain":[-0.06,77.83],"nice":false,"zero":false},"axis":null},
  "y": {"field":"v","type":"quantitative","scale":{"domain":[-1.04,3.14],"nice":false,"zero":false},"axis":null},
  "text": {"field":"t"},
  "color": {"field":"k","type":"nominal","scale":{"domain":["a","b","c"],"range":["#2a3cd8","#e8e8e8","#3a9a9a"]},"legend":null}}},
{"data": {"values": [{"v":-1.0}]},
 "mark": {"type":"rule","color":"#8a8a8a","strokeWidth":1,"clip":true},
 "encoding": {"y": {"field":"v","type":"quantitative","scale":{"domain":[-1.04,3.14],"nice":false,"zero":false},"axis":null}}}
]
}
]
}
